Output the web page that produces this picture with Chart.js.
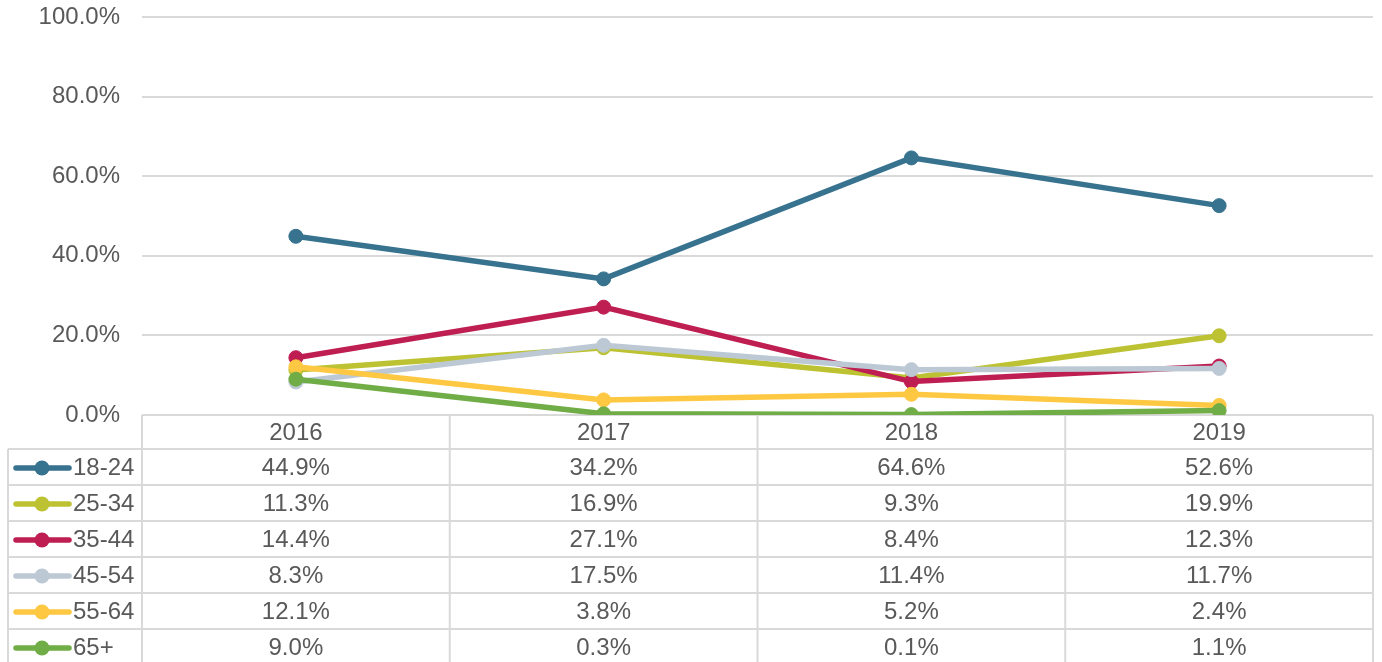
<!DOCTYPE html>
<html>
<head>
<meta charset="utf-8">
<script src="https://cdn.jsdelivr.net/npm/chart.js@4"></script>
<style>
  body { margin: 0; background: #fff; }
  #wrap { width: 1382px; height: 662px; }
</style>
</head>
<body>
<div id="wrap"><canvas id="myChart"></canvas></div>
<script>
const years = ["2016", "2017", "2018", "2019"];
const groups = ["18-24", "25-34", "35-44", "45-54", "55-64", "65+"];
const s1824 = [44.9, 34.2, 64.6, 52.6];
const s2534 = [11.3, 16.9, 9.3, 19.9];
const s3544 = [14.4, 27.1, 8.4, 12.3];
const s4554 = [8.3, 17.5, 11.4, 11.7];
const s5564 = [12.1, 3.8, 5.2, 2.4];
const s65 = [9.0, 0.3, 0.1, 1.1];
const colors = ["#37728f", "#bcc232", "#be1e52", "#bcc9d4", "#fec843", "#70ad47"];

const series = [s1824, s2534, s3544, s4554, s5564, s65];
const font = "'Liberation Sans', Arial, sans-serif";
const textColor = "#595959";
const lineColor = "#d9d9d9";

// data table under the plot (header row + one row per age group)
const tablePlugin = {
  id: "dataTable",
  beforeDatasetsDraw(chart) {
    const ctx = chart.ctx;
    const x = chart.scales.x;
    const area = chart.chartArea;
    const half = (x.getPixelForValue(1) - x.getPixelForValue(0)) / 2;
    const top = area.bottom;
    const headH = 34, rowH = 36, left = 8;
    const bottom = top + headH + rowH * groups.length;

    ctx.save();
    ctx.strokeStyle = lineColor;
    ctx.lineWidth = 2;
    ctx.beginPath();
    ctx.moveTo(area.left, top); ctx.lineTo(area.right, top);
    for (let r = 0; r <= groups.length; r++) {
      const y = top + headH + r * rowH;
      ctx.moveTo(left, y); ctx.lineTo(area.right, y);
    }
    ctx.moveTo(left, top + headH); ctx.lineTo(left, bottom);
    ctx.moveTo(area.left, top); ctx.lineTo(area.left, bottom);
    years.forEach((_, i) => {
      const xr = x.getPixelForValue(i) + half;
      ctx.moveTo(xr, top); ctx.lineTo(xr, bottom);
    });
    ctx.stroke();

    ctx.fillStyle = textColor;
    ctx.font = "24px " + font;
    ctx.textAlign = "center";
    ctx.textBaseline = "middle";
    years.forEach((yr, i) => {
      ctx.fillText(yr, x.getPixelForValue(i), top + headH / 2 + 1);
    });

    groups.forEach((g, r) => {
      const cy = top + headH + r * rowH + rowH / 2 + 1;
      // legend key
      ctx.strokeStyle = colors[r];
      ctx.lineWidth = 5.5;
      ctx.lineCap = "round";
      ctx.beginPath();
      ctx.moveTo(16, cy); ctx.lineTo(69, cy);
      ctx.stroke();
      ctx.fillStyle = colors[r];
      ctx.beginPath();
      ctx.arc(42, cy, 7.5, 0, Math.PI * 2);
      ctx.fill();

      ctx.fillStyle = textColor;
      ctx.textAlign = "left";
      ctx.fillText(g, 73, cy);
      ctx.textAlign = "center";
      series[r].forEach((v, i) => {
        ctx.fillText(v.toFixed(1) + "%", x.getPixelForValue(i), cy);
      });
    });
    ctx.restore();
  }
};

const data = {
  labels: years,
  datasets: groups.map((g, i) => ({
    label: g,
    data: series[i],
    borderColor: colors[i],
    backgroundColor: colors[i],
    borderWidth: 5.5,
    pointRadius: 7,
    pointBorderWidth: 1,
    pointBackgroundColor: colors[i],
    pointBorderColor: colors[i],
    tension: 0,
    order: groups.length - i // later series drawn on top
  }))
};

const config = {
  type: "line",
  data: data,
  options: {
    responsive: true,
    maintainAspectRatio: false,
    animation: false,
    layout: { padding: { top: 17, right: 9, bottom: 247, left: 0 } },
    plugins: {
      legend: { display: false },
      tooltip: { enabled: false }
    },
    scales: {
      x: { display: false, offset: true },
      y: {
        min: 0,
        max: 100,
        ticks: {
          stepSize: 20,
          padding: 22,
          color: textColor,
          font: { family: font, size: 24 },
          callback: v => v.toFixed(1) + "%"
        },
        grid: { color: lineColor, lineWidth: 2, drawTicks: false },
        border: { display: false },
        afterFit: s => {
          s.width = 142;
          s.paddingTop = 0;
          s.paddingBottom = 0;
        }
      }
    }
  },
  plugins: [tablePlugin]
};

const ctx = document.getElementById("myChart").getContext("2d");
const myChart = new Chart(ctx, config);
</script>
</body>
</html>
